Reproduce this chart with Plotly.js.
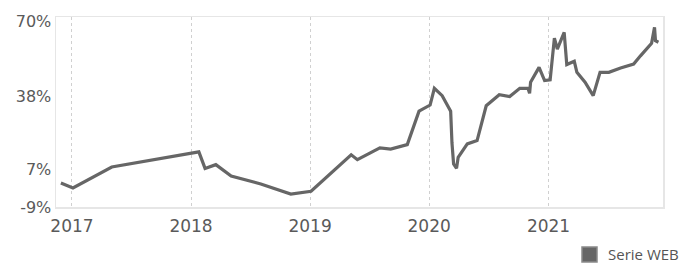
<!DOCTYPE html>
<html>
<head>
<meta charset="utf-8">
<script src="https://cdn.plot.ly/plotly-3.0.1.min.js"></script>
<style>html,body{margin:0;padding:0;background:#fff;}#chart{width:686px;height:263px;}</style>
</head>
<body>
<div id="chart"></div>
<script>
const seriesName = "Serie WEB";
const dates = ["2016-11-28","2017-01-04","2017-05-03","2018-01-25","2018-02-13","2018-03-18","2018-05-04","2018-08-03","2018-11-03","2019-01-04","2019-05-07","2019-05-26","2019-08-03","2019-09-05","2019-10-26","2019-12-01","2020-01-04","2020-01-17","2020-02-10","2020-03-07","2020-03-11","2020-03-16","2020-03-25","2020-03-30","2020-04-27","2020-05-27","2020-06-24","2020-08-03","2020-09-04","2020-10-05","2020-10-30","2020-11-04","2020-11-07","2020-12-03","2020-12-20","2021-01-06","2021-01-19","2021-01-28","2021-02-18","2021-02-26","2021-03-21","2021-03-29","2021-04-23","2021-05-18","2021-06-08","2021-07-05","2021-08-10","2021-09-19","2021-10-10","2021-11-13","2021-11-22","2021-11-25","2021-12-04"];
const values = [1.2,-0.9,8.0,14.4,7.4,9.0,4.2,0.8,-3.5,-2.3,13.2,11.1,16.1,15.6,17.5,31.7,34.3,41.4,38.3,31.7,18.2,9.3,7.4,12.1,17.8,19.2,34.0,38.7,37.9,41.4,41.4,39.3,44.0,50.3,44.7,45.0,62.7,58.1,65.2,51.5,52.9,48.2,44.0,38.3,48.2,48.2,50.0,51.7,55.2,60.5,67.3,61.6,61.0];
const xTickVals = ["2017-01-01","2018-01-01","2019-01-01","2020-01-01","2021-01-01"];
const xTickText = ["2017","2018","2019","2020","2021"];
const yTickVals = [-9,7,38,70];
const yTickText = ["-9%","7%","38%","70%"];

const trace = {
  x: dates, y: values, type: "scatter", mode: "lines", name: seriesName,
  line: {color: "#666666", width: 3.2}, showlegend: false
};
const layout = {
  width: 686, height: 263,
  margin: {l: 56, r: 23, t: 17, b: 56},
  paper_bgcolor: "#ffffff", plot_bgcolor: "#ffffff",
  font: {family: "DejaVu Sans, Verdana, sans-serif", color: "#5a5a5a"},
  xaxis: {
    type: "date", range: ["2016-11-13", "2021-12-18"],
    tickvals: xTickVals, ticktext: xTickText,
    showgrid: true, gridcolor: "#d0d0d0", griddash: "dot", gridwidth: 1,
    showline: true, linecolor: "#e6e6e6", linewidth: 1.5, mirror: true,
    zeroline: false, ticks: "", ticklabelstandoff: 3, tickfont: {size: 17, color: "#5a5a5a"}
  },
  yaxis: {
    range: [-9, 71.7], tickvals: yTickVals, ticktext: yTickText,
    showgrid: false, showline: true, linecolor: "#e6e6e6", linewidth: 1.5, mirror: true,
    zeroline: false, ticks: "", tickfont: {size: 16, color: "#5a5a5a"}
  },
  shapes: [{type: "rect", xref: "paper", yref: "paper",
    x0: (582-56)/607, x1: (597-56)/607, y0: (207-262)/190, y1: (207-247)/190,
    fillcolor: "#666666", line: {color: "#8a8a8a", width: 1.5}}],
  annotations: [{xref: "paper", yref: "paper", x: (606-56)/607, y: (207-254)/190,
    xanchor: "left", yanchor: "middle", showarrow: false, text: seriesName,
    font: {family: "Open Sans, sans-serif", size: 15, color: "#555555"}}]
};
Plotly.newPlot("chart", [trace], layout, {displayModeBar: false, staticPlot: true});
</script>
</body>
</html>
